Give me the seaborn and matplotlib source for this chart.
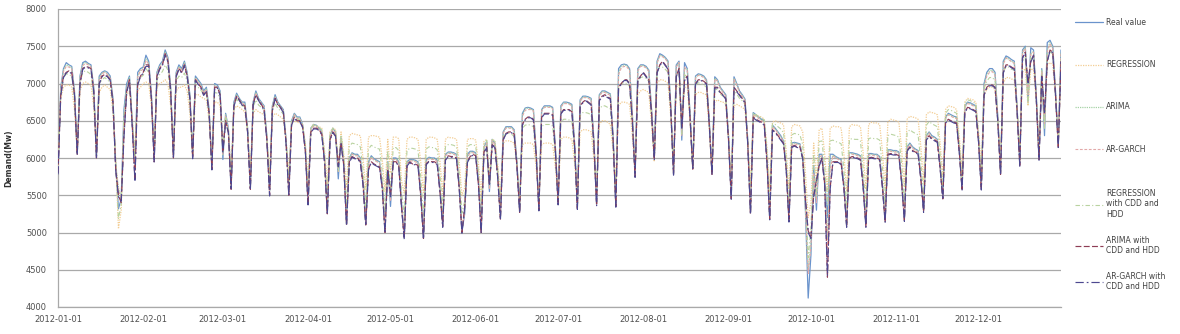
import numpy as np
import pandas as pd
import matplotlib
matplotlib.use("Agg")
import matplotlib.pyplot as plt
import matplotlib.dates as mdates
import seaborn as sns

# ---------------- data (daily, weeks Sun..Sat, starting Sun 2012-01-01) ----------------
real_weeks = [
    [5800, 6950, 7200, 7280, 7250, 7230, 6900], [6050, 7100, 7280, 7300, 7270, 7250, 6950],
    [6030, 7100, 7150, 7170, 7150, 7100, 6800], [5900, 5320, 5450, 6650, 7000, 7100, 6500],
    [5950, 7150, 7200, 7220, 7380, 7300, 6850], [6000, 7150, 7250, 7300, 7450, 7350, 6950],
    [6050, 7150, 7250, 7200, 7300, 7150, 6850], [6050, 7100, 7050, 7000, 6900, 6950, 6650],
    [5900, 7000, 6980, 6900, 5980, 6600, 6400], [5600, 6750, 6870, 6800, 6750, 6750, 6400],
    [5600, 6750, 6900, 6800, 6750, 6700, 6300], [5550, 6700, 6850, 6750, 6700, 6650, 6250],
    [5550, 6500, 6600, 6550, 6550, 6450, 6150], [5400, 6400, 6450, 6440, 6400, 6350, 6000],
    [5270, 6300, 6400, 6350, 5720, 6270, 5950], [5110, 6000, 6070, 6050, 6050, 6000, 5700],
    [5130, 5950, 6030, 5990, 5970, 5950, 5650], [5020, 5950, 5350, 6000, 6000, 5950, 5400],
    [4930, 5950, 5980, 5980, 5970, 5950, 5550], [4930, 5980, 6010, 6000, 6000, 5970, 5600],
    [5110, 6050, 6080, 6080, 6070, 6050, 5650], [5020, 5250, 6050, 6090, 6090, 6070, 5700],
    [5020, 6150, 6220, 5550, 6250, 6200, 5800], [5200, 6350, 6420, 6420, 6420, 6380, 5950],
    [5290, 6600, 6670, 6680, 6670, 6650, 6100], [5320, 6650, 6700, 6700, 6700, 6680, 6150],
    [5400, 6700, 6750, 6750, 6740, 6720, 6200], [5330, 6780, 6830, 6830, 6820, 6800, 6250],
    [5380, 6850, 6900, 6900, 6880, 6860, 6300], [5360, 7200, 7250, 7260, 7250, 7200, 6600],
    [5790, 7200, 7250, 7250, 7230, 7180, 6650], [6010, 7300, 7400, 7380, 7350, 7300, 6700],
    [5790, 7250, 7300, 6240, 7280, 7200, 6600], [5870, 7100, 7130, 7120, 7100, 7050, 6500],
    [5800, 7090, 7050, 6950, 6900, 6850, 6300], [5470, 7090, 7000, 6900, 6850, 6790, 6250],
    [5270, 6610, 6580, 6550, 6520, 6500, 6000], [5200, 6440, 6400, 6350, 6300, 6230, 5900],
    [5180, 6200, 6210, 6200, 6190, 6000, 5300], [4120, 4700, 5900, 5300, 6050, 6050, 5700],
    [5200, 6050, 6050, 6020, 6000, 5980, 5650], [5100, 6070, 6070, 6060, 6050, 6030, 5650],
    [5100, 6060, 6060, 6050, 6050, 6020, 5650], [5160, 6110, 6110, 6100, 6100, 6080, 5700],
    [5180, 6150, 6200, 6150, 6120, 6100, 5750], [5300, 6300, 6350, 6300, 6280, 6250, 5900],
    [5470, 6550, 6600, 6580, 6560, 6550, 6100], [5600, 6700, 6750, 6740, 6720, 6700, 6250],
    [5600, 7000, 7150, 7200, 7200, 7150, 6550], [5800, 7300, 7370, 7350, 7320, 7300, 6700],
    [5930, 7450, 7500, 6750, 7480, 7450, 6850], [6000, 7200, 6300, 7550, 7580, 7500, 6900],
    [6190, 7450],
]

regression_weeks = [
    [6000, 6800, 6950, 6980, 6980, 6950, 6650], [6100, 6900, 7000, 7020, 7000, 6980, 6700],
    [6100, 6880, 6950, 6980, 6950, 6920, 6620], [6000, 5050, 5300, 6500, 6850, 6900, 6550],
    [6050, 6900, 6950, 7000, 7020, 7000, 6700], [6100, 6950, 7000, 7020, 7050, 7000, 6700],
    [6100, 6900, 6950, 6950, 6980, 6900, 6600], [6050, 6850, 6850, 6820, 6800, 6780, 6500],
    [5950, 6750, 6750, 6700, 6100, 6550, 6350], [5850, 6650, 6700, 6680, 6650, 6620, 6350],
    [5850, 6600, 6650, 6620, 6600, 6580, 6300], [5800, 6550, 6600, 6580, 6550, 6520, 6250],
    [5800, 6450, 6500, 6480, 6470, 6450, 6200], [5700, 6400, 6450, 6430, 6420, 6400, 6100],
    [5650, 6350, 6400, 6380, 5900, 6350, 6050], [5600, 6300, 6330, 6320, 6310, 6300, 6000],
    [5580, 6280, 6300, 6300, 6290, 6280, 5980], [5550, 6250, 5800, 6280, 6280, 6260, 5700],
    [5530, 6250, 6280, 6280, 6270, 6250, 5950], [5520, 6250, 6280, 6280, 6270, 6250, 5950],
    [5520, 6250, 6280, 6270, 6270, 6250, 5950], [5500, 5600, 6250, 6260, 6260, 6240, 5930],
    [5480, 6220, 6250, 5750, 6250, 6230, 5920], [5480, 6200, 6230, 6230, 6220, 6200, 5900],
    [5450, 6180, 6200, 6200, 6200, 6180, 5880], [5450, 6180, 6200, 6200, 6200, 6180, 5880],
    [5500, 6250, 6280, 6280, 6270, 6250, 5930], [5550, 6350, 6380, 6380, 6370, 6350, 6000],
    [5600, 6450, 6500, 6500, 6480, 6450, 6100], [5700, 6700, 6750, 6750, 6740, 6720, 6300],
    [5850, 6850, 6900, 6920, 6900, 6880, 6450], [5950, 7000, 7050, 7050, 7030, 7000, 6550],
    [5900, 6950, 7000, 6400, 6950, 6950, 6500], [5850, 6850, 6880, 6880, 6860, 6850, 6400],
    [5800, 6750, 6780, 6760, 6750, 6720, 6300], [5700, 6700, 6720, 6700, 6680, 6650, 6250],
    [5650, 6550, 6580, 6560, 6550, 6520, 6150], [5600, 6480, 6500, 6480, 6470, 6450, 6100],
    [5580, 6420, 6450, 6440, 6430, 6350, 5800], [5200, 5400, 6200, 5700, 6380, 6400, 6050],
    [5550, 6400, 6430, 6420, 6420, 6400, 6050], [5550, 6420, 6450, 6440, 6440, 6420, 6070],
    [5580, 6450, 6480, 6470, 6470, 6450, 6100], [5600, 6480, 6520, 6510, 6500, 6480, 6120],
    [5620, 6520, 6560, 6550, 6540, 6520, 6150], [5680, 6580, 6620, 6610, 6600, 6580, 6200],
    [5750, 6650, 6700, 6690, 6680, 6650, 6280], [5820, 6750, 6800, 6790, 6780, 6750, 6350],
    [5900, 6850, 6920, 6950, 6950, 6920, 6500], [6000, 7000, 7080, 7080, 7060, 7050, 6650],
    [6100, 7150, 7200, 6700, 7200, 7180, 6780], [6150, 7100, 6500, 7250, 7280, 7250, 6850],
    [6200, 7200],
]

arima_weeks = [
    [5850, 6900, 7180, 7250, 7240, 7210, 6880], [6070, 7080, 7260, 7280, 7260, 7230, 6930],
    [6040, 7080, 7140, 7160, 7130, 7080, 6790], [5920, 5600, 5450, 6400, 6950, 7080, 6480],
    [5850, 7100, 7180, 7200, 7330, 7280, 6830], [6020, 7140, 7230, 7280, 7420, 7330, 6930],
    [6040, 7130, 7230, 7180, 7280, 7130, 6830], [6030, 7080, 7030, 6980, 6880, 6930, 6630],
    [5890, 6980, 6960, 6880, 6080, 6550, 6380], [5620, 6730, 6850, 6790, 6740, 6730, 6380],
    [5610, 6740, 6880, 6790, 6740, 6690, 6280], [5560, 6690, 6830, 6740, 6690, 6640, 6230],
    [5560, 6490, 6590, 6540, 6540, 6440, 6140], [5410, 6390, 6440, 6430, 6390, 6340, 5990],
    [5280, 6290, 6390, 6340, 5850, 6230, 5940], [5120, 5990, 6060, 6040, 6040, 5990, 5690],
    [5140, 5930, 6020, 5980, 5960, 5940, 5640], [5030, 5930, 5450, 5970, 5990, 5940, 5390],
    [4950, 5940, 5970, 5970, 5960, 5940, 5540], [4950, 5970, 6000, 5990, 5990, 5960, 5590],
    [5120, 6040, 6070, 6070, 6060, 6040, 5640], [5030, 5300, 6000, 6080, 6080, 6060, 5690],
    [5030, 6140, 6210, 5600, 6220, 6190, 5790], [5210, 6340, 6410, 6410, 6410, 6370, 5940],
    [5300, 6580, 6660, 6670, 6660, 6640, 6090], [5330, 6640, 6690, 6690, 6690, 6670, 6140],
    [5410, 6690, 6740, 6740, 6730, 6710, 6190], [5340, 6770, 6820, 6820, 6810, 6790, 6240],
    [5390, 6840, 6890, 6890, 6870, 6850, 6290], [5370, 7150, 7230, 7250, 7240, 7190, 6590],
    [5780, 7180, 7240, 7240, 7220, 7170, 6640], [6000, 7280, 7380, 7370, 7340, 7290, 6690],
    [5800, 7230, 7290, 6350, 7200, 7190, 6590], [5870, 7080, 7120, 7110, 7090, 7040, 6490],
    [5800, 7070, 7040, 6940, 6890, 6840, 6290], [5480, 7070, 6990, 6890, 6840, 6780, 6240],
    [5280, 6600, 6570, 6540, 6510, 6490, 5990], [5210, 6430, 6390, 6340, 6290, 6220, 5890],
    [5190, 6190, 6200, 6190, 6180, 6000, 5350], [4500, 4850, 5750, 5450, 6000, 6040, 5690],
    [4900, 5900, 6040, 6010, 5990, 5970, 5640], [5110, 6060, 6060, 6050, 6040, 6020, 5640],
    [5110, 6050, 6050, 6040, 6040, 6010, 5640], [5170, 6100, 6100, 6090, 6090, 6070, 5690],
    [5190, 6140, 6190, 6140, 6110, 6090, 5740], [5310, 6290, 6340, 6290, 6270, 6240, 5890],
    [5480, 6540, 6590, 6570, 6550, 6540, 6090], [5610, 6690, 6740, 6730, 6710, 6690, 6240],
    [5610, 6970, 7120, 7170, 7180, 7130, 6540], [5810, 7280, 7350, 7330, 7300, 7280, 6690],
    [5940, 7430, 7480, 6900, 7400, 7430, 6840], [6010, 7180, 6450, 7450, 7550, 7480, 6890],
    [6180, 7420],
]

argarch_weeks = [
    [5830, 6920, 7160, 7230, 7220, 7200, 6870], [6060, 7060, 7240, 7270, 7250, 7220, 6920],
    [6030, 7060, 7130, 7150, 7120, 7070, 6780], [5910, 5550, 5480, 6450, 6930, 7060, 6470],
    [5870, 7090, 7170, 7190, 7310, 7260, 6820], [6010, 7130, 7220, 7260, 7400, 7320, 6920],
    [6030, 7120, 7220, 7170, 7260, 7120, 6820], [6020, 7070, 7020, 6970, 6870, 6920, 6620],
    [5880, 6970, 6950, 6870, 6050, 6560, 6370], [5610, 6720, 6840, 6780, 6730, 6720, 6370],
    [5600, 6730, 6870, 6780, 6730, 6680, 6270], [5550, 6680, 6820, 6730, 6680, 6630, 6220],
    [5550, 6480, 6580, 6530, 6530, 6430, 6130], [5400, 6380, 6430, 6420, 6380, 6330, 5980],
    [5270, 6280, 6380, 6330, 5820, 6240, 5930], [5110, 5980, 6050, 6030, 6030, 5980, 5680],
    [5130, 5920, 6010, 5970, 5950, 5930, 5630], [5020, 5920, 5420, 5980, 5980, 5930, 5380],
    [4940, 5930, 5960, 5960, 5950, 5930, 5530], [4940, 5960, 5990, 5980, 5980, 5950, 5580],
    [5110, 6030, 6060, 6060, 6050, 6030, 5630], [5020, 5280, 6020, 6070, 6070, 6050, 5680],
    [5020, 6130, 6200, 5580, 6230, 6180, 5780], [5200, 6330, 6400, 6400, 6400, 6360, 5930],
    [5290, 6560, 6640, 6650, 6650, 6630, 6080], [5320, 6630, 6680, 6680, 6680, 6660, 6130],
    [5400, 6680, 6730, 6730, 6720, 6700, 6180], [5330, 6760, 6810, 6810, 6800, 6780, 6230],
    [5380, 6830, 6880, 6880, 6860, 6840, 6280], [5360, 7120, 7210, 7230, 7220, 7180, 6580],
    [5770, 7170, 7230, 7230, 7210, 7160, 6630], [5990, 7270, 7370, 7360, 7330, 7280, 6680],
    [5790, 7220, 7280, 6300, 7220, 7180, 6580], [5860, 7070, 7110, 7100, 7080, 7030, 6480],
    [5790, 7060, 7030, 6930, 6880, 6830, 6280], [5470, 7060, 6980, 6880, 6830, 6770, 6230],
    [5270, 6590, 6560, 6530, 6500, 6480, 5980], [5200, 6420, 6380, 6330, 6280, 6210, 5880],
    [5180, 6180, 6190, 6180, 6170, 6000, 5330], [4450, 4800, 5800, 5400, 6020, 6030, 5680],
    [4800, 5850, 6030, 6000, 5980, 5960, 5630], [5100, 6050, 6050, 6040, 6030, 6010, 5630],
    [5100, 6040, 6040, 6030, 6030, 6000, 5630], [5160, 6090, 6090, 6080, 6080, 6060, 5680],
    [5180, 6130, 6180, 6130, 6100, 6080, 5730], [5300, 6280, 6330, 6280, 6260, 6230, 5880],
    [5470, 6530, 6580, 6560, 6540, 6530, 6080], [5600, 6680, 6730, 6720, 6700, 6680, 6230],
    [5600, 6950, 7100, 7150, 7160, 7110, 6530], [5800, 7260, 7340, 7320, 7290, 7270, 6680],
    [5930, 7420, 7470, 6850, 7390, 7420, 6830], [6000, 7170, 6420, 7430, 7530, 7470, 6880],
    [6170, 7400],
]

regression_cdd_weeks = [
    [5900, 6880, 7080, 7130, 7120, 7100, 6780], [6080, 7000, 7150, 7170, 7150, 7120, 6830],
    [6060, 6990, 7050, 7080, 7050, 7010, 6710], [5950, 5180, 5380, 6580, 6930, 7000, 6520],
    [6000, 7030, 7080, 7110, 7200, 7150, 6780], [6050, 7050, 7120, 7160, 7250, 7180, 6830],
    [6080, 7030, 7100, 7080, 7140, 7030, 6730], [6050, 6980, 6950, 6910, 6850, 6870, 6580],
    [5920, 6880, 6870, 6800, 6040, 6580, 6380], [5720, 6700, 6790, 6740, 6700, 6690, 6380],
    [5720, 6680, 6780, 6710, 6680, 6640, 6300], [5680, 6630, 6730, 6670, 6630, 6590, 6250],
    [5680, 6480, 6550, 6520, 6510, 6450, 6180], [5550, 6400, 6450, 6440, 6410, 6380, 6050],
    [5460, 6330, 6400, 6370, 5810, 6310, 6000], [5350, 6150, 6200, 6190, 6180, 6150, 5850],
    [5350, 6120, 6170, 6150, 6130, 6120, 5820], [5280, 6100, 5570, 6140, 6140, 6100, 5550],
    [5230, 6100, 6130, 6130, 6120, 6100, 5750], [5220, 6120, 6150, 6140, 6140, 6110, 5780],
    [5320, 6150, 6180, 6180, 6170, 6150, 5800], [5260, 5420, 6150, 6180, 6180, 6160, 5820],
    [5250, 6190, 6240, 5650, 6250, 6220, 5860], [5340, 6280, 6330, 6330, 6320, 6290, 5920],
    [5370, 6400, 6440, 6450, 6440, 6420, 5990], [5390, 6420, 6450, 6450, 6450, 6430, 6020],
    [5450, 6480, 6520, 6520, 6510, 6490, 6070], [5440, 6570, 6610, 6610, 6600, 6580, 6130],
    [5490, 6650, 6700, 6700, 6680, 6660, 6200], [5530, 6950, 7000, 7010, 7000, 6960, 6450],
    [5820, 7030, 7080, 7090, 7070, 7030, 6550], [5980, 7150, 7230, 7220, 7190, 7150, 6630],
    [5850, 7100, 7150, 6320, 7120, 7080, 6550], [5860, 6980, 7010, 7000, 6980, 6950, 6450],
    [5800, 6920, 6920, 6860, 6830, 6790, 6300], [5590, 6900, 6860, 6800, 6770, 6720, 6250],
    [5460, 6580, 6580, 6560, 6540, 6510, 6080], [5400, 6460, 6450, 6420, 6390, 6340, 6000],
    [5380, 6310, 6330, 6320, 6310, 6180, 5550], [4660, 5050, 6050, 5500, 6220, 6230, 5880],
    [5380, 6230, 6240, 6220, 6210, 6190, 5850], [5330, 6250, 6260, 6250, 6250, 6230, 5860],
    [5340, 6260, 6270, 6260, 6260, 6240, 5880], [5380, 6300, 6320, 6310, 6300, 6280, 5910],
    [5400, 6340, 6380, 6350, 6330, 6310, 5950], [5490, 6440, 6490, 6460, 6440, 6420, 6050],
    [5610, 6600, 6650, 6640, 6620, 6600, 6190], [5710, 6730, 6780, 6770, 6750, 6730, 6300],
    [5750, 6930, 7030, 7080, 7080, 7040, 6530], [5900, 7150, 7230, 7220, 7190, 7180, 6680],
    [6020, 7300, 7350, 6730, 7340, 7320, 6820], [6080, 7150, 6400, 7400, 7430, 7380, 6880],
    [6200, 7330],
]

arima_cdd_weeks = [
    [5800, 6850, 7100, 7150, 7170, 7150, 6850], [6050, 7000, 7200, 7230, 7220, 7200, 6900],
    [6000, 7000, 7100, 7120, 7100, 7050, 6750], [5850, 5500, 5400, 6300, 6900, 7050, 6450],
    [5700, 7000, 7100, 7150, 7250, 7250, 6800], [5950, 7100, 7200, 7250, 7400, 7300, 6900],
    [6000, 7100, 7200, 7150, 7250, 7100, 6800], [6000, 7050, 7000, 6950, 6850, 6900, 6600],
    [5850, 6950, 6950, 6850, 6100, 6500, 6350], [5580, 6700, 6830, 6780, 6720, 6700, 6350],
    [5580, 6720, 6850, 6780, 6720, 6650, 6250], [5500, 6650, 6800, 6720, 6680, 6620, 6200],
    [5500, 6450, 6550, 6500, 6500, 6420, 6100], [5380, 6350, 6400, 6400, 6380, 6320, 5950],
    [5250, 6250, 6350, 6300, 5900, 6200, 5900], [5100, 5950, 6020, 6000, 6000, 5950, 5650],
    [5100, 5850, 5950, 5920, 5900, 5880, 5600], [5000, 5850, 5500, 5950, 5950, 5900, 5350],
    [4920, 5900, 5950, 5920, 5920, 5900, 5500], [4920, 5920, 5960, 5950, 5950, 5920, 5550],
    [5080, 5980, 6030, 6020, 6020, 6000, 5600], [5000, 5350, 5950, 6020, 6050, 6030, 5650],
    [5000, 6080, 6150, 5650, 6180, 6150, 5750], [5180, 6250, 6330, 6350, 6350, 6320, 5900],
    [5270, 6450, 6520, 6550, 6550, 6520, 6050], [5300, 6550, 6600, 6600, 6600, 6580, 6100],
    [5380, 6600, 6650, 6650, 6650, 6620, 6150], [5320, 6700, 6750, 6780, 6750, 6720, 6200],
    [5370, 6780, 6830, 6850, 6820, 6800, 6250], [5350, 6950, 7000, 7050, 7050, 7000, 6500],
    [5750, 7050, 7100, 7150, 7100, 7050, 6600], [5980, 7150, 7250, 7300, 7250, 7200, 6650],
    [5780, 7100, 7200, 6400, 7050, 7100, 6550], [5850, 7000, 7050, 7050, 7030, 7000, 6450],
    [5780, 6950, 6950, 6880, 6850, 6800, 6250], [5450, 6950, 6900, 6850, 6800, 6750, 6200],
    [5250, 6550, 6520, 6500, 6480, 6450, 5950], [5180, 6380, 6350, 6300, 6250, 6200, 5850],
    [5150, 6150, 6170, 6150, 6150, 6000, 5450], [5020, 4950, 5500, 5700, 5900, 6000, 5650],
    [4400, 5600, 5950, 5950, 5950, 5920, 5600], [5080, 6000, 6020, 6010, 6000, 5980, 5620],
    [5080, 6000, 6010, 6000, 6000, 5980, 5620], [5140, 6050, 6060, 6050, 6050, 6030, 5680],
    [5160, 6100, 6150, 6100, 6080, 6060, 5720], [5280, 6250, 6300, 6260, 6240, 6220, 5870],
    [5450, 6480, 6520, 6500, 6480, 6470, 6080], [5580, 6620, 6680, 6670, 6650, 6630, 6220],
    [5580, 6850, 6950, 6980, 6980, 6950, 6500], [5780, 7150, 7250, 7250, 7220, 7200, 6650],
    [5900, 7350, 7420, 7000, 7300, 7380, 6800], [5980, 7100, 6600, 7300, 7450, 7420, 6850],
    [6150, 7300],
]

argarch_cdd_weeks = [
    [5780, 6830, 7080, 7140, 7160, 7130, 6840], [6040, 6990, 7190, 7220, 7210, 7190, 6890],
    [5990, 6990, 7090, 7110, 7090, 7040, 6740], [5840, 5480, 5420, 6280, 6880, 7030, 6440],
    [5680, 6980, 7090, 7140, 7230, 7230, 6790], [5940, 7090, 7190, 7240, 7380, 7290, 6890],
    [5990, 7090, 7190, 7140, 7240, 7090, 6790], [5990, 7040, 6990, 6940, 6840, 6890, 6590],
    [5840, 6940, 6940, 6840, 6080, 6480, 6340], [5570, 6690, 6820, 6770, 6710, 6690, 6340],
    [5570, 6710, 6840, 6770, 6710, 6640, 6240], [5490, 6640, 6790, 6710, 6670, 6610, 6190],
    [5490, 6440, 6540, 6490, 6490, 6410, 6090], [5370, 6340, 6390, 6390, 6370, 6310, 5940],
    [5240, 6240, 6340, 6290, 5880, 6190, 5890], [5090, 5940, 6010, 5990, 5990, 5940, 5640],
    [5090, 5840, 5940, 5910, 5890, 5870, 5590], [4990, 5840, 5480, 5940, 5940, 5890, 5340],
    [4910, 5890, 5940, 5910, 5910, 5890, 5490], [4910, 5910, 5950, 5940, 5940, 5910, 5540],
    [5070, 5970, 6020, 6010, 6010, 5990, 5590], [4990, 5330, 5940, 6010, 6040, 6020, 5640],
    [4990, 6070, 6140, 5630, 6170, 6140, 5740], [5170, 6240, 6320, 6340, 6340, 6310, 5890],
    [5260, 6440, 6510, 6540, 6540, 6510, 6040], [5290, 6540, 6590, 6590, 6590, 6570, 6090],
    [5370, 6590, 6640, 6640, 6640, 6610, 6140], [5310, 6690, 6740, 6770, 6740, 6710, 6190],
    [5360, 6770, 6820, 6840, 6810, 6790, 6240], [5340, 6940, 6990, 7040, 7040, 6990, 6490],
    [5740, 7040, 7090, 7140, 7090, 7040, 6590], [5970, 7140, 7240, 7290, 7240, 7190, 6640],
    [5770, 7090, 7190, 6380, 7040, 7090, 6540], [5840, 6990, 7040, 7040, 7020, 6990, 6440],
    [5770, 6940, 6940, 6870, 6840, 6790, 6240], [5440, 6940, 6890, 6840, 6790, 6740, 6190],
    [5240, 6540, 6510, 6490, 6470, 6440, 5940], [5170, 6370, 6340, 6290, 6240, 6190, 5840],
    [5140, 6140, 6160, 6140, 6140, 5990, 5440], [5000, 4920, 5480, 5680, 5890, 5990, 5640],
    [4420, 5580, 5940, 5940, 5940, 5910, 5590], [5070, 5990, 6010, 6000, 5990, 5970, 5610],
    [5070, 5990, 6000, 5990, 5990, 5970, 5610], [5130, 6040, 6050, 6040, 6040, 6020, 5670],
    [5150, 6090, 6140, 6090, 6070, 6050, 5710], [5270, 6240, 6290, 6250, 6230, 6210, 5860],
    [5440, 6470, 6510, 6490, 6470, 6460, 6070], [5570, 6610, 6670, 6660, 6640, 6620, 6210],
    [5570, 6840, 6940, 6970, 6970, 6940, 6490], [5770, 7140, 7240, 7240, 7210, 7190, 6640],
    [5890, 7340, 7410, 6990, 7290, 7370, 6790], [5970, 7090, 6590, 7290, 7440, 7410, 6840],
    [6140, 7290],
]

series_labels = [
    "Real value",
    "REGRESSION",
    "ARIMA",
    "AR-GARCH",
    "REGRESSION\nwith CDD and\nHDD",
    "ARIMA with\nCDD and HDD",
    "AR-GARCH with\nCDD and HDD",
]
series_weeks = [real_weeks, regression_weeks, arima_weeks, argarch_weeks,
                regression_cdd_weeks, arima_cdd_weeks, argarch_cdd_weeks]
y_ticks = [4000, 4500, 5000, 5500, 6000, 6500, 7000, 7500, 8000]
y_label = "Demand(Mw)"

# ---------------- styling ----------------
colors = ["#6a93cc", "#f3cd93", "#a6d2a6", "#e2a9a9", "#b9d3a0", "#8e3d55", "#4d4890"]
styles = ["-", (0, (1, 1)), (0, (1, 0.8)), (0, (2.5, 1.5)), (0, (4, 2, 1, 2)),
          (0, (5, 2)), (0, (7, 2.5, 1.5, 2.5))]
widths = [0.9, 0.9, 0.9, 0.8, 0.8, 0.85, 0.85]
draw_order = [1, 4, 2, 3, 0, 5, 6]

dates = pd.date_range("2012-01-01", "2012-12-31", freq="D")
frames = []
for lab, wk in zip(series_labels, series_weeks):
    vals = [v for w in wk for v in w]
    assert len(vals) == len(dates), (lab, len(vals))
    frames.append(pd.DataFrame({"date": dates, "value": vals, "series": lab}))
df = pd.concat(frames, ignore_index=True)

sns.set_style("white")
plt.rcParams["font.family"] = ["DejaVu Sans"]

fig = plt.figure(figsize=(11.8, 3.34), dpi=100)
ax = fig.add_axes([58 / 1180, 1 - 307 / 334, (1061 - 58) / 1180, (307 - 9) / 334])

for i in draw_order:
    sub = df[df["series"] == series_labels[i]]
    sns.lineplot(data=sub, x="date", y="value", ax=ax, color=colors[i],
                 linestyle=styles[i], linewidth=widths[i], label=series_labels[i],
                 zorder=3 + i)

ax.set_xlim(pd.Timestamp("2012-01-01"), pd.Timestamp("2012-12-31"))
ax.set_ylim(4000, 8000)
ax.set_yticks(y_ticks)
ax.yaxis.grid(True, color="#a9a9a9", linewidth=0.9)
ax.xaxis.grid(False)
ax.set_axisbelow(True)
ax.xaxis.set_major_locator(mdates.MonthLocator())
ax.xaxis.set_major_formatter(mdates.DateFormatter("%Y-%m-%d"))
ax.tick_params(axis="x", length=0, pad=6, labelsize=6, labelcolor="#505050")
ax.tick_params(axis="y", length=3, width=0.6, color="#a9a9a9", pad=5,
               labelsize=6, labelcolor="#505050")
for s in ["top", "right"]:
    ax.spines[s].set_visible(False)
for s in ["left", "bottom"]:
    ax.spines[s].set_color("#a9a9a9")
    ax.spines[s].set_linewidth(0.9)
ax.set_xlabel("")
ax.set_ylabel(y_label, fontsize=5.5, fontweight="bold", color="#303030", labelpad=9)

handles, labels = ax.get_legend_handles_labels()
order = [labels.index(l) for l in series_labels]
hs = [handles[k] for k in order]
ls_ = [labels[k] for k in order]
common = dict(loc="upper left", bbox_transform=fig.transFigure, frameon=False,
              fontsize=5.5, handlelength=3.6, handletextpad=0.5,
              borderaxespad=0, borderpad=0)
leg1 = ax.legend(hs[:4], ls_[:4], bbox_to_anchor=(1075 / 1180, 1 - 18 / 334),
                 labelspacing=4.35, **common)
ax.add_artist(leg1)
leg2 = ax.legend(hs[4:], ls_[4:], bbox_to_anchor=(1075 / 1180, 1 - 189 / 334),
                 labelspacing=2.2, **common)
for lg in (leg1, leg2):
    for t in lg.get_texts():
        t.set_color("#404040")
        t.set_linespacing(1.2)

fig.savefig("out.png", dpi=100)
